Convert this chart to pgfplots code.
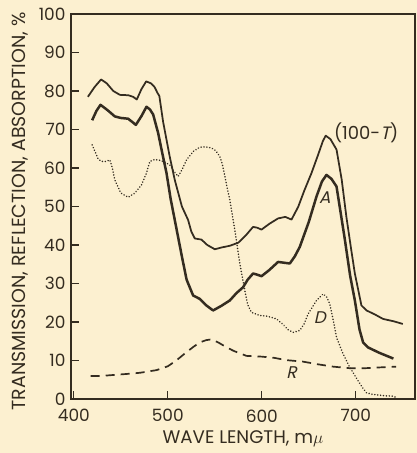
\documentclass[border=0pt]{standalone}
\usepackage{pgfplots}
\pgfplotsset{compat=1.18}
\usepackage{fontspec}
\setmainfont{Poppins}
\newfontfamily\slantfont[FakeSlant=0.22]{Poppins}
\definecolor{ink}{RGB}{52,44,32}
\definecolor{paper}{RGB}{252,240,208}

\pgfplotstableread{
x y
415 78.5
422 81
429 83
435 82
442 80
449 79
458 78.9
463 78.5
467 77.8
472 80.5
477 82.5
482 82
486 81
489 79.5
491 78.7
495 72
502 63
507.4 56.9
515 50
521.6 46.5
525 43.5
528.7 41.7
535.8 41.4
542 40
550 38.9
558 39.4
566 39.8
575 40.6
583 42.5
590.7 44.7
595 44.5
599.7 44
608 45.5
617.3 46.9
625 47.3
631.6 46.6
638.7 49.9
645 54
652.9 58.7
660 63.5
665 67
668 68.4
673 67.5
679.5 64.8
685 57
690 47.3
695 39
699 32.6
706 24.3
711.4 23
720 22
729 20.8
740 20.2
750 19.5
}\tabT

\pgfplotstableread{
x y
419.5 72.4
424 74.8
428.4 76.4
436 75
443.6 73.4
450 73
457.8 72.8
462 72
466 71.2
472 73.5
477.3 75.9
481 75.2
484.4 73.9
489.7 69.1
494 64
498.6 58.7
503 52
507.4 46.5
515 37
520 31
526.9 26.9
534 26
541 24.3
548.2 23
557 24.2
566 25.6
573 27.5
580 29
585 31
590.7 32.6
595 32.3
599.7 31.9
608 33.5
617.3 35.6
629.8 35.2
635 37
640.4 39.5
650 46
658.2 52.6
664 56.5
668.8 58.2
674 57.2
679.5 55.2
688 42
694 32
699 25.6
704 18
707.8 14.7
713 13.4
725 12
737 10.8
740 10.5
}\tabA

\pgfplotstableread{
x y
419.5 66
423 64
426 62.3
429.5 61.7
434 61.7
438.3 62.1
441 60
443.6 56.9
450 53.5
457.8 52.4
465 53.5
472 55.6
477 58.5
480.9 61.7
486 62.2
491.5 62
497 61.5
502 60.8
507 59
511 57.8
515 59.5
519.9 62.1
527 64.3
534 65.4
540 65.5
546.5 65.2
551 64.5
555.3 63
558 61
560.6 58
563 55
566 51.7
569.5 46.5
571.3 43.9
576.6 35.2
581.9 28.2
585 24.5
589 22.5
597.9 21.7
606 21.5
615.6 20.8
622 19.5
628 18
633.3 17.3
640.4 17.8
645 19.5
649.3 22.1
658.2 25.6
665.2 27.3
669 26.5
672.3 24.7
676 20.5
679.5 16
686 12
693 8.5
702.5 4.7
707 3
711.4 1.6
718 1.2
725.5 1
732 0.8
738 0.8
742 0.5
}\tabD

\pgfplotstableread{
x y
418 6
430 6
445 6.3
456 6.5
470 6.8
488 7.5
500 8.5
509 10
518 11.8
527 13.5
534 14.7
541 15.3
547 15.5
555 14.5
562 13.5
570 12.5
583.7 11.2
600 11
613 10.7
626 10.1
644 9.7
660 9
676 8.4
693.6 8
710 8
725 8.2
743 8.4
}\tabR

\begin{document}
\begin{tikzpicture}
\fill[paper] (-71bp,-54bp) rectangle (346bp,399bp);
\begin{axis}[
  at={(0,0)}, anchor=south west,
  scale only axis, width=344bp, height=385bp,
  xmin=397, xmax=763, ymin=0, ymax=100,
  xtick={400,500,600,700}, ytick={0,10,...,100},
  tick align=inside, xtick pos=bottom, ytick pos=left,
  major tick length=8bp,
  axis line style={line width=1.4bp, draw=ink},
  tick style={line width=1.1bp, draw=ink},
  ticklabel style={font=\fontsize{17}{17}\selectfont, text=ink},
  yticklabel style={xshift=-2bp},
  xticklabel style={yshift=-7bp},
  /pgf/number format/assume math mode=true,
  xlabel={WAVE LENGTH, m$\mu$},
  ylabel={TRANSMISSION, REFLECTION, ABSORPTION, \%},
  xlabel style={font=\fontsize{18.3}{18.3}\selectfont, text=ink, at={(axis description cs:0.5,0)}, anchor=center, yshift=-40bp},
  ylabel style={font=\fontsize{19}{19}\selectfont, text=ink, at={(axis description cs:0,0.5)}, anchor=center, xshift=-5bp, yshift=51bp},
  clip=false,
]
\addplot[ink, line width=1.75bp, line join=round] table {\tabT};
\addplot[ink, line width=2.5bp, line join=round] table {\tabA};
\addplot[ink, line width=1.7bp, line cap=round, dash pattern=on 0.01bp off 2.9bp] table {\tabD};
\addplot[ink, line width=1.7bp, dash pattern=on 9bp off 6bp] table {\tabR};
\node[text=ink, font=\fontsize{18}{18}\selectfont] at (axis cs:711,69.2) {(100-{\slantfont T})};
\node[text=ink, font=\fontsize{17}{17}\selectfont\slantfont] at (axis cs:667,52.2) {A};
\node[text=ink, font=\fontsize{17}{17}\selectfont\slantfont] at (axis cs:661.7,21.1) {D};
\node[text=ink, font=\fontsize{17}{17}\selectfont\slantfont] at (axis cs:631.6,6.9) {R};
\end{axis}
\pgfresetboundingbox
\path[use as bounding box] (-71bp,-54bp) rectangle (346bp,399bp);
\end{tikzpicture}
\end{document}
